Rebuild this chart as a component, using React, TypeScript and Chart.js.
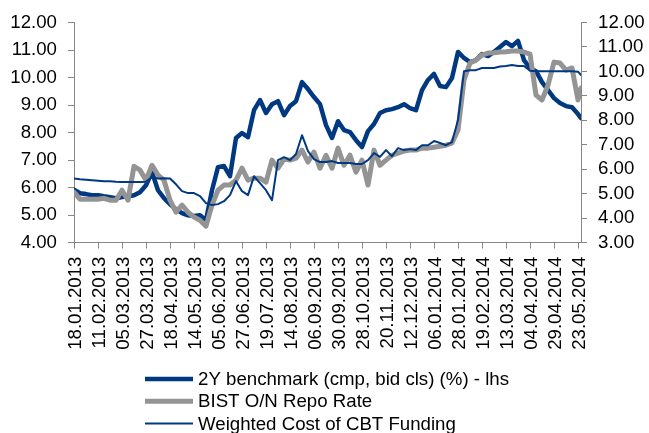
import React, { useEffect, useRef } from 'react';
import { Chart, registerables } from 'chart.js';

Chart.register(...registerables);

// x axis: business-day index from 18.01.2013 (0) to 23.05.2014 (338)
const tickLabels = [
  '18.01.2013', '11.02.2013', '05.03.2013', '27.03.2013', '18.04.2013', '14.05.2013',
  '05.06.2013', '27.06.2013', '19.07.2013', '14.08.2013', '06.09.2013', '30.09.2013',
  '28.10.2013', '20.11.2013', '12.12.2013', '06.01.2014', '28.01.2014', '19.02.2014',
  '13.03.2014', '04.04.2014', '29.04.2014', '23.05.2014',
];
const tickDays = [0, 16, 32, 48, 64, 80, 96, 112, 128, 144, 160, 176, 192, 208, 224, 240, 256, 272, 288, 304, 320, 336];
const lastDay = 338;

const sampleDays = [
  0, 4, 8, 12, 16, 20, 24, 28, 32, 36, 40, 44, 48, 52, 56, 60, 64, 68, 72, 76,
  80, 84, 88, 92, 96, 100, 104, 108, 112, 116, 120, 124, 128, 132, 136, 140, 144, 148, 152, 156,
  160, 164, 168, 172, 176, 180, 184, 188, 192, 196, 200, 204, 208, 212, 216, 220, 224, 228, 232, 236,
  240, 244, 248, 252, 256, 260, 264, 268, 272, 276, 280, 284, 288, 292, 296, 300, 304, 308, 312, 316,
  320, 324, 328, 332, 336, 338,
];

// 2Y benchmark (cmp, bid cls) (%) - left axis
const twoYBenchmark = [
  5.92, 5.79, 5.76, 5.72, 5.72, 5.68, 5.65, 5.61, 5.65, 5.68, 5.72, 5.83, 6.08, 6.56, 5.90, 5.61, 5.39, 5.21, 5.07, 4.99,
  4.96, 4.99, 4.81, 5.90, 6.74, 6.78, 6.41, 7.80, 7.98, 7.83, 8.81, 9.18, 8.71, 9.03, 9.14, 8.63, 8.96, 9.14, 9.83, 9.58,
  9.29, 9.03, 8.27, 7.80, 8.41, 8.09, 8.01, 7.72, 7.47, 8.05, 8.31, 8.71, 8.81, 8.85, 8.92, 9.03, 8.89, 8.81, 9.54, 9.91,
  10.13, 9.69, 9.65, 9.98, 10.93, 10.71, 10.56, 10.63, 10.85, 10.78, 10.93, 11.11, 11.29, 11.14, 11.33, 10.63, 10.34, 10.23, 9.83, 9.54,
  9.25, 9.07, 8.96, 8.92, 8.67, 8.52,
];

// BIST O/N Repo Rate - right axis
const bistRepo = [
  5.06, 4.77, 4.77, 4.77, 4.77, 4.81, 4.73, 4.73, 5.14, 4.73, 6.12, 5.96, 5.55, 6.16, 5.76, 5.55, 4.73, 4.24, 4.53, 4.24,
  4.04, 3.91, 3.67, 4.53, 5.14, 5.35, 5.35, 5.55, 6.04, 5.55, 5.63, 5.63, 5.47, 6.37, 6.04, 6.41, 6.37, 6.45, 6.78, 6.29,
  6.70, 6.04, 6.57, 6.04, 6.86, 6.16, 6.57, 5.88, 6.37, 5.35, 6.78, 6.16, 6.37, 6.57, 6.66, 6.74, 6.78, 6.78, 6.86, 6.86,
  6.90, 6.94, 6.98, 7.07, 7.60, 9.65, 10.34, 10.46, 10.67, 10.75, 10.76, 10.79, 10.80, 10.83, 10.83, 10.79, 10.71, 9.03, 8.83, 9.44,
  10.38, 10.34, 10.05, 10.14, 8.83, 9.32,
];

// Weighted Cost of CBT Funding - right axis
const cbtFunding = [
  5.62, 5.59, 5.57, 5.55, 5.53, 5.51, 5.51, 5.49, 5.48, 5.48, 5.48, 5.48, 5.49, 5.67, 5.62, 5.63, 5.62, 5.38, 5.10, 5.02,
  5.02, 4.90, 4.61, 4.53, 4.57, 4.69, 4.94, 5.51, 5.10, 4.94, 5.71, 5.43, 5.14, 4.73, 6.37, 6.49, 6.37, 6.62, 7.39, 6.74,
  6.41, 6.29, 6.29, 6.33, 6.25, 6.25, 6.25, 6.21, 6.21, 6.37, 6.66, 6.50, 6.78, 6.53, 6.86, 6.78, 6.82, 6.78, 6.98, 6.98,
  7.15, 7.07, 6.98, 7.11, 8.01, 10.01, 10.05, 10.05, 10.14, 10.14, 10.14, 10.20, 10.22, 10.26, 10.22, 10.22, 10.03, 10.01, 10.01, 10.01,
  10.01, 10.01, 10.01, 10.01, 9.99, 9.85,
];

const seriesNames = [
  '2Y benchmark (cmp, bid cls) (%) - lhs',
  'BIST O/N Repo Rate',
  'Weighted Cost of CBT Funding',
];

const NAVY = '#003882';
const GRAY = '#949494';
const AXIS = '#868686';
const FONT = '"Liberation Sans", Arial, sans-serif';
const FS = 18.67;

const toPoints = (vals: number[]) => vals.map((v, i) => ({ x: sampleDays[i], y: v }));

const stackedLegend = {
  id: 'stackedLegend',
  afterDraw(chart: any) {
    const ctx = chart.ctx as CanvasRenderingContext2D;
    const ds = chart.data.datasets;
    const lineX0 = 145;
    const lineX1 = 193;
    const textX = 198;
    const rowY0 = 379;
    const rowDy = 22.3;
    ctx.save();
    ctx.font = `${FS}px ${FONT}`;
    ctx.textBaseline = 'middle';
    ctx.textAlign = 'left';
    ds.forEach((d: any, i: number) => {
      const y = rowY0 + i * rowDy;
      ctx.beginPath();
      ctx.strokeStyle = d.borderColor;
      ctx.lineWidth = d.borderWidth;
      ctx.lineCap = 'butt';
      ctx.moveTo(lineX0, y);
      ctx.lineTo(lineX1, y);
      ctx.stroke();
      ctx.fillStyle = '#000';
      ctx.fillText(d.label, textX, y + 1);
    });
    ctx.restore();
  },
};

export default function App() {
  const ref = useRef<HTMLCanvasElement | null>(null);

  useEffect(() => {
    if (!ref.current) return;
    const tickFont = { size: FS, family: FONT };
    const axisGrid = {
      drawOnChartArea: false,
      drawTicks: true,
      tickLength: 6,
      color: AXIS,
      tickColor: AXIS,
      lineWidth: 1,
    };
    const axisBorder = { display: true, color: AXIS, width: 1 };

    const chart = new Chart(ref.current, {
      type: 'line',
      data: {
        datasets: [
          {
            label: seriesNames[0],
            data: toPoints(twoYBenchmark),
            borderColor: NAVY,
            borderWidth: 4.5,
            yAxisID: 'y',
            order: 3,
          },
          {
            label: seriesNames[1],
            data: toPoints(bistRepo),
            borderColor: GRAY,
            borderWidth: 5,
            yAxisID: 'y1',
            order: 2,
          },
          {
            label: seriesNames[2],
            data: toPoints(cbtFunding),
            borderColor: NAVY,
            borderWidth: 2,
            yAxisID: 'y1',
            order: 1,
          },
        ],
      },
      options: {
        responsive: false,
        animation: false,
        devicePixelRatio: 1,
        elements: {
          point: { radius: 0, hoverRadius: 0 },
          line: { tension: 0, borderJoinStyle: 'round', borderCapStyle: 'round', fill: false },
        },
        layout: { padding: { top: 22.5, left: 0, right: 0, bottom: 0 } },
        plugins: {
          legend: { display: false },
          tooltip: { enabled: false },
        },
        scales: {
          x: {
            type: 'linear',
            min: 0,
            max: lastDay,
            afterBuildTicks: (axis: any) => {
              axis.ticks = tickDays.map((v) => ({ value: v }));
            },
            afterFit: (s: any) => {
              s.height = 190.5;
            },
            grid: axisGrid,
            border: axisBorder,
            ticks: {
              autoSkip: false,
              minRotation: 90,
              maxRotation: 90,
              padding: 8,
              labelOffset: 2,
              color: '#000',
              font: tickFont,
              callback: (v: any) => {
                const i = tickDays.indexOf(Number(v));
                return i >= 0 ? tickLabels[i] : '';
              },
            },
          },
          y: {
            position: 'left',
            min: 4,
            max: 12,
            afterFit: (s: any) => {
              s.width = 74;
            },
            grid: axisGrid,
            border: axisBorder,
            ticks: {
              stepSize: 1,
              autoSkip: false,
              padding: 11,
              color: '#000',
              font: tickFont,
              callback: (v: any) => Number(v).toFixed(2),
            },
          },
          y1: {
            position: 'right',
            min: 3,
            max: 12,
            afterFit: (s: any) => {
              s.width = 68;
            },
            grid: axisGrid,
            border: axisBorder,
            ticks: {
              stepSize: 1,
              autoSkip: false,
              padding: 11,
              color: '#000',
              font: tickFont,
              callback: (v: any) => Number(v).toFixed(2),
            },
          },
        },
      },
      plugins: [stackedLegend],
    } as any);

    return () => chart.destroy();
  }, []);

  return (
    <canvas
      ref={ref}
      width={649}
      height={433}
      style={{ position: 'absolute', left: 0, top: 0, width: 649, height: 433, display: 'block', background: '#fff' }}
    />
  );
}
